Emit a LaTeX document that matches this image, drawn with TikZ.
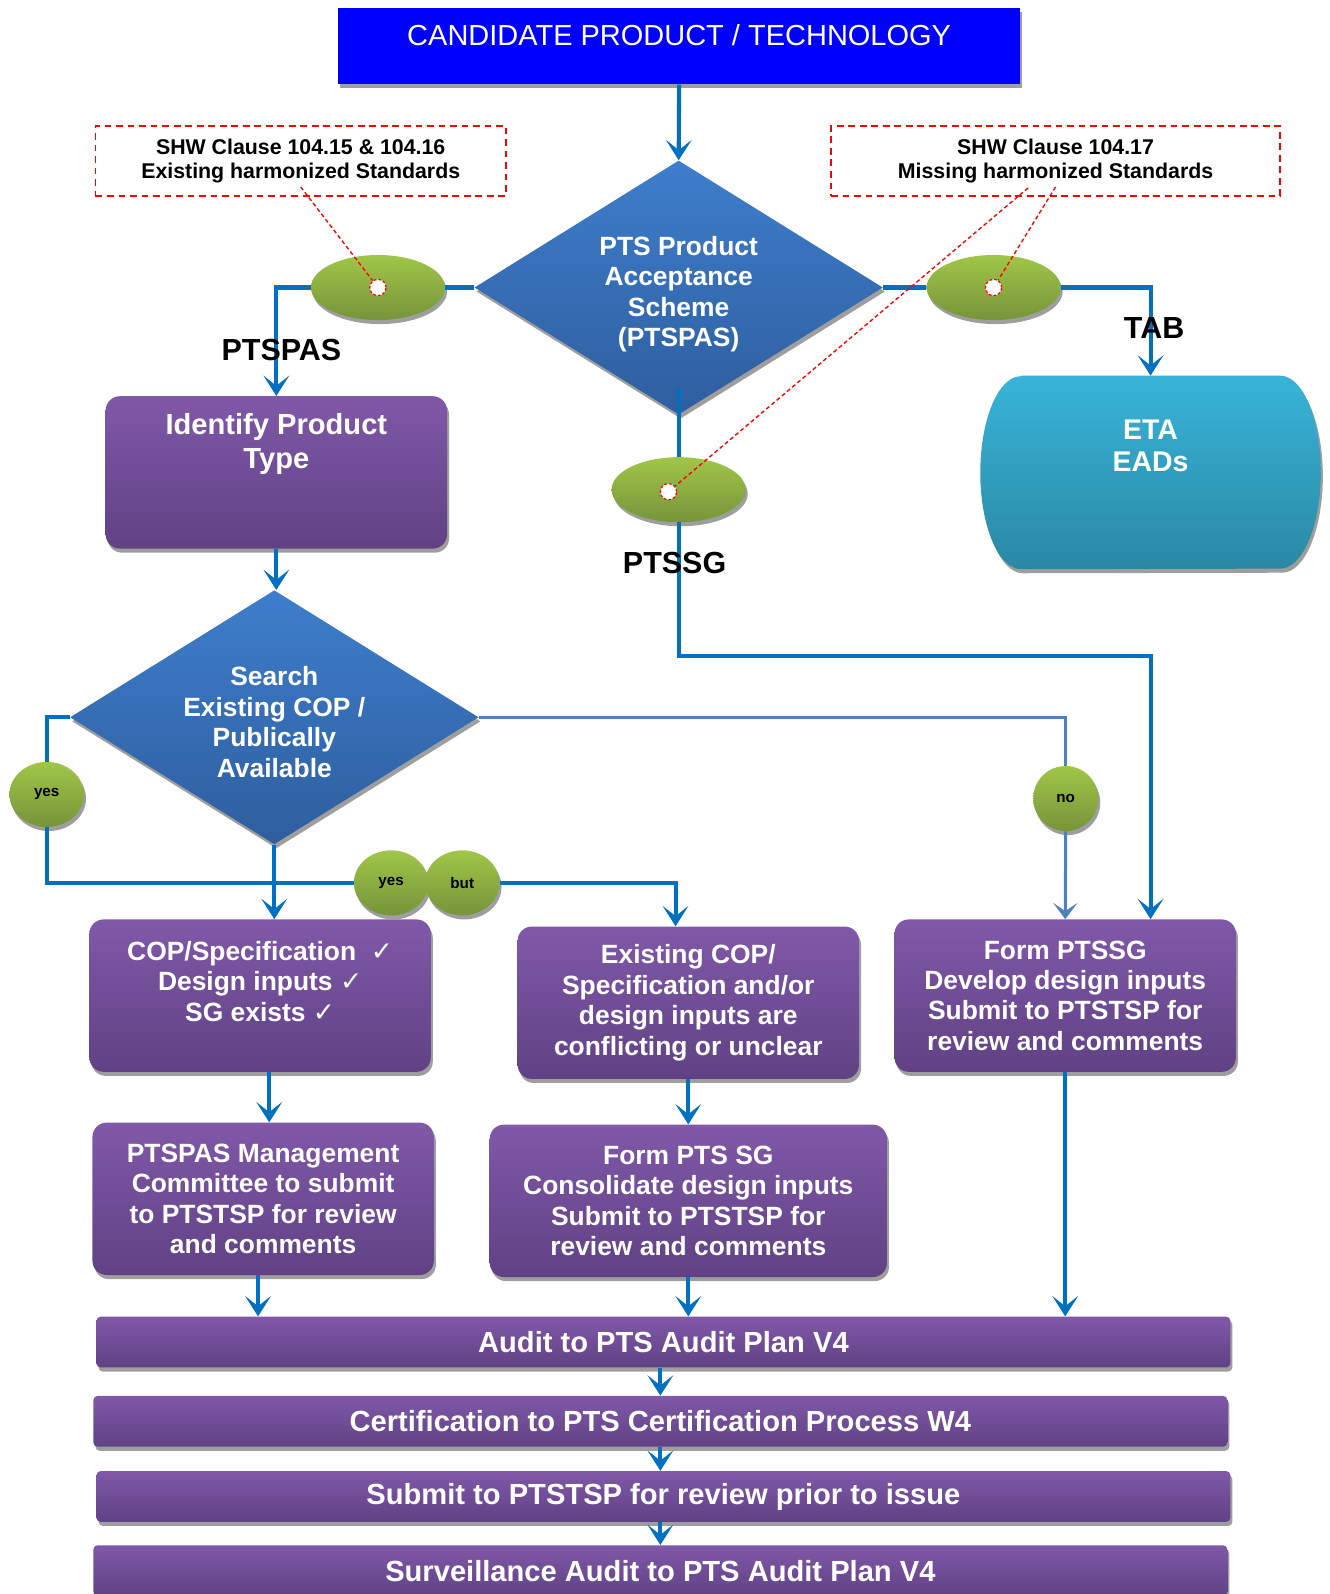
\documentclass[tikz,border=0pt]{standalone}
\usepackage{fontspec}
\setmainfont{Liberation Sans}
\newfontfamily\symfont{DejaVu Sans}
\usetikzlibrary{shapes.geometric,shadows,arrows.meta,positioning}

\definecolor{flowblue}{RGB}{0,112,192}
\definecolor{noblue}{RGB}{79,129,189}
\definecolor{boxtop}{RGB}{128,88,168}
\definecolor{boxbot}{RGB}{96,66,132}
\definecolor{diatop}{RGB}{62,126,204}
\definecolor{diabot}{RGB}{46,94,158}
\definecolor{greentop}{RGB}{160,198,72}
\definecolor{greenbot}{RGB}{118,148,58}
\definecolor{etatop}{RGB}{56,180,216}
\definecolor{etabot}{RGB}{42,136,164}
\definecolor{candblue}{RGB}{0,0,255}

\begin{document}
\begin{tikzpicture}[x=0.75pt,y=-0.75pt,
    shade3d/.style={drop shadow={shadow xshift=1.5pt,shadow yshift=-3pt,fill=black!38,opacity=1}},
    boxtext/.style={text=white,align=center,font=\bfseries\fontsize{19.5}{22.5}\selectfont},
    purplebox/.style={shade3d,rectangle,rounded corners=10.5pt,top color=boxtop,bottom color=boxbot,
        minimum width=252pt,minimum height=112.5pt,inner sep=0pt,boxtext},
    bar/.style={shade3d,rectangle,rounded corners=3pt,top color=boxtop,bottom color=boxbot,
        minimum width=837pt,minimum height=37.5pt,inner sep=0pt,text=white,
        font=\bfseries\fontsize{21.5}{24}\selectfont},
    decision/.style={shade3d,diamond,aspect=1.6,top color=diatop,bottom color=diabot,
        minimum width=301.5pt,minimum height=187.5pt,inner sep=0pt,boxtext},
    pill/.style={shade3d,ellipse,top color=greentop,bottom color=greenbot,
        minimum width=99pt,minimum height=48pt,inner sep=0pt},
    answer/.style={shade3d,ellipse,top color=greentop,bottom color=greenbot,
        minimum width=55pt,minimum height=48pt,inner sep=0pt,font=\bfseries\fontsize{11.25}{13}\selectfont},
    clause/.style={draw=red,line width=1.1pt,dash pattern=on 5pt off 3.5pt,minimum height=51.75pt,
        align=center,font=\bfseries\fontsize{15.75}{18}\selectfont},
    hole/.style={circle,draw=red,fill=white,line width=0.9pt,dash pattern=on 2pt off 1.5pt,
        minimum size=12pt,inner sep=0pt},
    pointer/.style={red,line width=1pt,dash pattern=on 3pt off 2pt},
    route/.style={line width=3pt,draw=flowblue},
    flow/.style={route,-{Stealth[length=15pt,width=19pt,inset=7.5pt]}},
    noroute/.style={line width=2.2pt,draw=noblue},
    noflow/.style={noroute,-{Stealth[length=12pt,width=18pt,inset=6pt]}},
    tag/.style={font=\bfseries\fontsize{22.5}{26}\selectfont}]

    \useasboundingbox (0,0) rectangle (1309,1569);

    \node[shade3d,fill=candblue,minimum width=503.25pt,minimum height=56.25pt] (cand) at (668.5,45.5) {};
    \node[text=white,font=\fontsize{21.4}{25}\selectfont] at ([yshift=7.9pt]cand.center) {CANDIDATE PRODUCT / TECHNOLOGY};

    \node[clause,minimum width=303pt] (shwl) at (296,158.5) {SHW Clause 104.15 \& 104.16\\Existing harmonized Standards};
    \node[clause,minimum width=331.5pt] (shwr) at (1039,158.5) {SHW Clause 104.17\\Missing harmonized Standards};

    \node[decision] (pas) at (668,283) {\rule{0pt}{24pt}PTS Product\\Acceptance\\Scheme\\(PTSPAS)};
    \node[pill] (gl) at (372,283) {};
    \node[pill] (gr) at (978,283) {};
    \node[pill] (gc) at (668,482) {};
    \node[hole] (dotl) at (gl) {};
    \node[hole] (dotr) at (gr) {};
    \node[hole] (dotc) at ([xshift=-7.5pt,yshift=-1.5pt]gc.center) {};

    \node[purplebox] (ident) at (272,465) {};
    \node[boxtext,font=\bfseries\fontsize{21.5}{24.75}\selectfont] at ([yshift=21pt]ident.center) {Identify Product\\Type};

    \node[minimum width=251pt,minimum height=142.5pt] (eta) at (1132.5,465) {};
    \path[shade3d,top color=etatop,bottom color=etabot]
        ([xshift=30pt]eta.north west) -- ([xshift=-30pt]eta.north east)
        arc[start angle=90,end angle=-90,x radius=30pt,y radius=71.25pt]
        -- ([xshift=30pt]eta.south west)
        arc[start angle=270,end angle=90,x radius=30pt,y radius=71.25pt] -- cycle;
    \node[boxtext,font=\bfseries\fontsize{21}{24}\selectfont] at ([yshift=19.5pt]eta.center) {ETA\\EADs};

    \node[decision] (search) at (270,706) {\rule{0pt}{21pt}Search\\Existing COP /\\Publically\\Available};
    \node[answer] (yes1) at (46,782) {yes};

    \node[purplebox] (cop) at (256,980) {};
    \node[boxtext] at ([yshift=10.5pt]cop.center) {COP/Specification~~{\symfont\mdseries ✓}\\Design inputs {\symfont\mdseries ✓}\\SG exists {\symfont\mdseries ✓}};
    \node[purplebox] (exist) at (677.5,987) {Existing COP/\\Specification and/or\\design inputs are\\conflicting or unclear};
    \node[purplebox] (formsg) at (1048.5,980) {Form PTSSG\\Develop design inputs\\Submit to PTSTSP for\\review and comments};
    \node[purplebox] (mgmt) at (259,1180) {PTSPAS Management\\Committee to submit\\to PTSTSP for review\\and comments};
    \node[purplebox,minimum width=293.25pt] (plan) at (677.5,1182) {Form PTS SG\\Consolidate design inputs\\Submit to PTSTSP for\\review and comments};

    \node[bar] (audit) at (653,1321) {Audit to PTS Audit Plan V4};
    \node[bar] (cert) at (650,1399) {Certification to PTS Certification Process W4};
    \node[bar] (submit) at (653,1473) {Submit to PTSTSP for review prior to issue};
    \node[bar] (surv) at (650,1546) {Surveillance Audit to PTS Audit Plan V4};

    \draw[flow] (cand.south) -- (pas.north);
    \draw[route] (pas.west) -- (gl.east);
    \draw[flow] (gl.west) -| (ident.north);
    \draw[route] (pas.east) -- (gr.west);
    \draw[flow] (gr.east) -| (eta.north);
    \draw[route] ([yshift=20pt]pas.south) -- (gc.north);
    \draw[flow] (gc.south) -- ++(0,131) -| ([xshift=63pt]formsg.north);

    \draw[flow] (ident.south) -- (ident.south |- search.north);
    \draw[route] (search.west) -| (yes1.north);
    \node[answer] (yes2) at (385,869) {yes};
    \node[answer] (but) at (455,869) {but};
    \draw[route] (yes1.south) |- (yes2.west);
    \draw[flow] (search.south) -- (search.south |- cop.north);
    \draw[flow] (but.east) -| ([xshift=-9.4pt]exist.north);
    \node[answer,minimum width=48pt] (no) at (1049,786) {no};
    \draw[noroute] (search.east) -| (no.north);
    \draw[noflow] (no.south) -- (formsg.north);

    \draw[flow] ([xshift=6.75pt]cop.south) -- ([xshift=6.75pt]cop.south |- mgmt.north);
    \draw[flow] (exist.south) -- (exist.south |- plan.north);
    \draw[flow] ([xshift=-3.75pt]mgmt.south) -- ([xshift=-3.75pt]mgmt.south |- audit.north);
    \draw[flow] (plan.south) -- (plan.south |- audit.north);
    \draw[flow] (formsg.south) -- (formsg.south |- audit.north);
    \draw[flow] (cert.north |- audit.south) -- (cert.north);
    \draw[flow] (cert.south) -- (cert.south |- submit.north);
    \draw[flow] (surv.north |- submit.south) -- (surv.north);

    \coordinate (tagl) at (296,184);
    \coordinate (tagc) at (1012,185);
    \coordinate (tagr) at (1039,184);
    \draw[pointer] (tagl) -- (dotl);
    \draw[pointer] (tagc) -- (dotc);
    \draw[pointer] (tagr) -- (dotr);

    \node[tag] (lblpas) at (277,345) {PTSPAS};
    \node[tag] (lbltab) at (1136,323) {TAB};
    \node[tag] (lblsg) at (664,554) {PTSSG};
\end{tikzpicture}
\end{document}
